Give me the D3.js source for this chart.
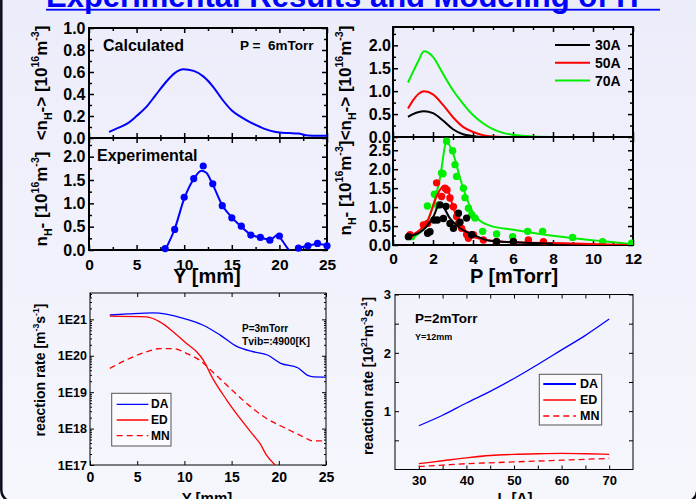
<!DOCTYPE html>
<html>
<head>
<meta charset="utf-8">
<script src="https://cdn.jsdelivr.net/npm/d3@7"></script>
<style>
  body { margin: 0; background: #eff0fb; }
  svg { display: block; }
  text { font-family: "Liberation Sans", Arial, sans-serif; font-weight: bold; }
</style>
</head>
<body>
<svg id="chart" width="696" height="499"></svg>
<script>
// (a) calculated <nH-> vs Y, P = 6 mTorr
const calcY = [2.1, 3, 4, 5, 6, 7, 8, 9, 9.9, 11, 12, 13, 14, 15, 16, 17, 18, 19, 20, 21, 22, 23, 24, 25];
const calcN = [0.055, 0.09, 0.13, 0.2, 0.28, 0.39, 0.5, 0.59, 0.625, 0.61, 0.56, 0.47, 0.35, 0.25, 0.19, 0.14, 0.1, 0.067, 0.05, 0.045, 0.04, 0.022, 0.02, 0.02];

// (b) experimental nH- vs Y
const expY = [8, 9, 10, 11, 12, 13, 14, 15, 16, 17, 18, 19, 20, 22, 23, 24, 25];
const expN = [0.03, 0.44, 1.13, 1.53, 1.8, 1.42, 0.95, 0.69, 0.51, 0.32, 0.27, 0.21, 0.3, 0.04, 0.09, 0.14, 0.09];
const expLineY = [8, 9, 10, 11, 11.8, 12.3, 13, 14, 15, 16, 17, 18, 19, 19.8, 20.3, 21, 21.5, 22, 23, 24, 25];
const expLineN = [0, 0.45, 1.1, 1.52, 1.7, 1.66, 1.4, 0.96, 0.7, 0.5, 0.33, 0.27, 0.22, 0.32, 0.2, 0, -0.08, 0.03, 0.09, 0.13, 0.1];

// (c) calculated <nH-> vs P for three discharge currents
const currents = ["30A", "50A", "70A"];
const colors = ["#000000", "#ff0000", "#00ee00"];
const calcP = [0.75, 1, 1.25, 1.55, 2, 2.5, 3, 3.5, 4, 4.5, 5, 5.5, 6, 7, 8];
const calc30 = [0.44, 0.5, 0.54, 0.56, 0.52, 0.36, 0.17, 0.06, 0.02, 0, 0, 0, 0, 0, 0];
const calc50 = [0.62, 0.8, 0.93, 1.0, 0.93, 0.7, 0.43, 0.22, 0.11, 0.04, 0.01, 0, 0, 0, 0];
const calc70 = [1.19, 1.42, 1.64, 1.87, 1.75, 1.38, 1.02, 0.73, 0.48, 0.3, 0.17, 0.09, 0.05, 0.01, 0];

// (d) measured nH- vs P (points) and fits (lines)
const ptP30 = [0.77, 1.73, 1.85, 2.05, 2.22, 2.35, 2.52, 2.65, 2.85, 3.02, 3.27, 3.35, 3.68, 3.93, 5.18, 6.02];
const ptN30 = [0.22, 0.31, 0.35, 0.66, 0.66, 1.06, 0.7, 1.02, 0.57, 0.44, 0.84, 0.6, 0.71, 0.27, 0.09, 0.09];
const ptP50 = [0.85, 1.52, 1.73, 2.18, 2.43, 2.6, 2.7, 2.85, 3.02, 3.18, 3.27, 3.43, 3.68, 3.77, 4.02, 4.52, 5.18, 6.02, 6.77, 7.52];
const ptN50 = [0.27, 0.53, 0.57, 1.64, 1.28, 1.5, 1.45, 1.24, 1.01, 0.75, 0.57, 0.44, 0.28, 0.18, 0.27, 0.13, 0.09, 0.09, 0.13, 0.09];
const ptP70 = [0.93, 1.72, 2.07, 2.23, 2.43, 2.5, 2.68, 2.98, 3.1, 3.18, 3.52, 3.6, 3.77, 3.93, 4.1, 4.48, 5.18, 5.98, 6.73, 7.48, 8.98, 10.48, 11.93];
const ptN70 = [0.22, 1.03, 1.34, 1.05, 1.9, 1.88, 2.74, 2.49, 2.12, 1.81, 1.5, 1.25, 0.97, 0.8, 0.71, 0.36, 0.29, 0.22, 0.36, 0.36, 0.2, 0.09, 0.05];
const fitP30 = [0.77, 1.52, 2.02, 2.35, 2.85, 3.35, 4.02, 4.85, 6.02, 8];
const fitN30 = [0.22, 0.4, 0.75, 1.11, 0.7, 0.44, 0.27, 0.11, 0.07, 0.03];
const fitP50 = [0.77, 1.22, 1.72, 2.18, 2.52, 2.7, 3.02, 3.35, 3.68, 4.02, 4.68, 6.02, 9.02, 11.7];
const fitN50 = [0.22, 0.35, 0.62, 1.28, 1.55, 1.5, 0.97, 0.57, 0.35, 0.22, 0.13, 0.07, 0.04, 0];
const fitP70 = [0.88, 1.38, 1.88, 2.35, 2.68, 3.02, 3.35, 3.68, 4.02, 4.35, 4.85, 6.02, 7.35, 9.02, 10.68, 12];
const fitN70 = [0.18, 0.35, 0.84, 1.77, 2.72, 2.39, 1.77, 1.24, 0.84, 0.64, 0.51, 0.4, 0.29, 0.18, 0.09, 0.02];

// (e) reaction rates vs Y, P = 3 mTorr
const rateNames = ["DA", "ED", "MN"];
const daY = [2.1, 4, 6.7, 9.9, 12, 13.8, 15.6, 17.3, 18.8, 20.2, 22, 23, 23.7, 25];
const daR = [1.32e21, 1.41e21, 1.51e21, 1.07e21, 6.9e20, 3.7e20, 1.78e20, 1.29e20, 1.05e20, 6.2e19, 4.7e19, 2.95e19, 2.63e19, 2.6e19];
const edY = [2.1, 6, 7.4, 8.8, 10.2, 11.3, 12, 13, 14.5, 15.9, 17.3, 18, 18.7, 19.8, 20.2];
const edR = [1.23e21, 1.17e21, 8.5e20, 4.6e20, 2.2e20, 1.29e20, 7.6e19, 2.4e19, 6.0e18, 1.9e18, 6.6e17, 3.9e17, 1.86e17, 8.9e16, 7e16];
const mnY = [2.1, 4.2, 6, 7.4, 8.8, 10.2, 11.6, 13, 14.5, 16.6, 18.7, 20.8, 22.6, 23.6, 25];
const mnR = [4.5e19, 8.5e19, 1.29e20, 1.58e20, 1.58e20, 1.17e20, 7.6e19, 3.6e19, 1.55e19, 4.9e18, 1.9e18, 1.0e18, 5.9e17, 4.6e17, 4.6e17];

// (f) reaction rates vs discharge current, P = 2 mTorr, Y = 12 mm
const currentA = [30, 35, 40, 45, 50, 55, 60, 65, 70];
const daI = [0.75, 0.93, 1.14, 1.34, 1.56, 1.8, 2.05, 2.3, 2.58];
const edI = [0.1, 0.15, 0.2, 0.24, 0.26, 0.27, 0.275, 0.27, 0.26];
const mnI = [0.05, 0.075, 0.1, 0.115, 0.13, 0.145, 0.16, 0.175, 0.19];

const svg = d3.select("#chart");
const BLUE = "#0000ff";

// background + slide border
const grad = svg.append("defs").append("linearGradient").attr("id", "bg").attr("x1", 0).attr("y1", 0).attr("x2", 0).attr("y2", 1);
grad.append("stop").attr("offset", 0).attr("stop-color", "#ecedfa");
grad.append("stop").attr("offset", 1).attr("stop-color", "#f6f6fd");
svg.append("rect").attr("width", 696).attr("height", 499).attr("fill", "url(#bg)");
svg.append("rect").attr("x", 1.3).attr("y", -30).attr("width", 696).attr("height", 532.5).attr("rx", 13)
  .attr("fill", "none").attr("stroke", "#0b0b1e").attr("stroke-width", 2.5);

// title (cut off at the top of the slide)
const title = svg.append("text").attr("x", 46).attr("y", 6.8).attr("fill", BLUE).attr("font-size", 31);
title.append("tspan").text("Experimental Results and Modeling of H");
title.append("tspan").attr("dy", -12).attr("font-size", 20).text("-");
svg.append("rect").attr("x", 46).attr("y", 8.8).attr("width", 614).attr("height", 1.8).attr("fill", BLUE);

// rich text: parts = [text, "sup" | "sub" | null]
function rich(sel, parts, size) {
  let shift = 0;
  parts.forEach(([t, k]) => {
    const target = k === "sup" ? -0.45 * size : k === "sub" ? 0.28 * size : 0;
    sel.append("tspan").attr("dy", target - shift).attr("font-size", k ? size * 0.62 : size).text(t);
    shift = target;
  });
  return sel;
}
function yTitle(x, y, parts, size) {
  const t = svg.append("text").attr("text-anchor", "middle")
    .attr("transform", `translate(${x},${y}) rotate(-90)`);
  rich(t, parts, size);
}
function label(x, y, txt, size, anchor) {
  return svg.append("text").attr("x", x).attr("y", y).attr("font-size", size)
    .attr("text-anchor", anchor || "start").attr("dominant-baseline", "central").text(txt);
}

let clipN = 0;
function clip(x, y) {
  const id = "clip" + (clipN++);
  const [xl, xr] = x.range(), [yb, yt] = y.range();
  svg.select("defs").append("clipPath").attr("id", id).append("rect")
    .attr("x", xl).attr("y", yt).attr("width", xr - xl).attr("height", yb - yt);
  return svg.append("g").attr("clip-path", `url(#${id})`);
}

// frame with inward ticks on all four sides
function frame(x, y, o) {
  const [xl, xr] = x.range(), [yb, yt] = y.range();
  const put = (axis, tx, ty, fs) => {
    const a = svg.append("g").attr("transform", `translate(${tx},${ty})`).call(axis)
      .attr("font-family", null).attr("font-size", null);
    a.select(".domain").remove();
    a.selectAll("line").attr("stroke-width", o.tw);
    a.selectAll("text").attr("font-size", fs).attr("fill", "#000");
    return a;
  };
  const tk = (mk, sc, vals, len, tx, ty) => put(mk(sc).tickValues(vals).tickSize(-len).tickFormat(""), tx, ty);
  [[d3.axisBottom, yb], [d3.axisTop, yt]].forEach(([mk, ty]) => {
    tk(mk, x, o.xMinor, o.minor, 0, ty);
    tk(mk, x, o.xMajor, o.major, 0, ty);
  });
  [[d3.axisLeft, xl], [d3.axisRight, xr]].forEach(([mk, tx]) => {
    tk(mk, y, o.yMinor, o.minor, tx, 0);
    tk(mk, y, o.yMajor, o.major, tx, 0);
  });
  if (o.xLab) put(d3.axisBottom(x).tickValues(o.xLab).tickSize(0).tickPadding(o.xPad).tickFormat(o.xFmt), 0, yb, o.xfs);
  if (o.yLab) put(d3.axisLeft(y).tickValues(o.yLab).tickSize(0).tickPadding(o.yPad).tickFormat(o.yFmt), xl, 0, o.yfs);
  svg.append("rect").attr("x", xl).attr("y", yt).attr("width", xr - xl).attr("height", yb - yt)
    .attr("fill", "none").attr("stroke", "#000").attr("stroke-width", o.sw);
}

const smooth = (x, y) => d3.line().x(d => x(d[0])).y(d => y(d[1])).curve(d3.curveMonotoneX);
const zip = (a, b) => a.map((v, i) => [v, b[i]]);
const f1 = d3.format(".1f");
const range = (a, b, s) => d3.range(a, b + s / 2, s);

// ---------- (a) ----------
const xY = d3.scaleLinear().domain([0, 25]).range([89, 327]);
const yA = d3.scaleLinear().domain([0, 1]).range([138, 28]);
const yB = d3.scaleLinear().domain([0, 2.4]).range([250, 138]);
const topOpt = { tw: 1.5, sw: 2, major: 5, minor: 3, xfs: 15.5, yfs: 16, xPad: 8.5, yPad: 3.5 };

frame(xY, yA, { ...topOpt, xMajor: range(0, 25, 5), xMinor: range(2.5, 22.5, 5),
  yMajor: range(0, 1, 0.2), yMinor: range(0.1, 0.9, 0.2), yLab: range(0, 1, 0.2), yFmt: f1 });
clip(xY, yA).append("path").datum(zip(calcY, calcN)).attr("d", smooth(xY, yA))
  .attr("fill", "none").attr("stroke", BLUE).attr("stroke-width", 2);
label(103, 45, "Calculated", 16);
label(240, 45, "P =  6mTorr", 13.5).attr("xml:space", "preserve");

// ---------- (b) ----------
frame(xY, yB, { ...topOpt, xMajor: range(0, 25, 5), xMinor: range(2.5, 22.5, 5),
  yMajor: range(0, 2, 0.5), yMinor: range(0.25, 2.25, 0.5), yLab: range(0, 2, 0.5), yFmt: f1,
  xLab: range(0, 25, 5), xFmt: d3.format("d") });
const gB = clip(xY, yB);
gB.append("path").datum(zip(expLineY, expLineN)).attr("d", smooth(xY, yB))
  .attr("fill", "none").attr("stroke", BLUE).attr("stroke-width", 2);
svg.selectAll(null).data(zip(expY, expN)).join("circle")
  .attr("cx", d => xY(d[0])).attr("cy", d => yB(d[1])).attr("r", 3.6).attr("fill", BLUE);
label(97, 155, "Experimental", 16);
label(207, 276, "Y [mm]", 20, "middle");

yTitle(47, 83, [["<n", null], ["H", "sub"], ["-> [10", null], ["16", "sup"], ["m", null], ["-3", "sup"], ["]", null]], 17);
yTitle(47, 199, [["n", null], ["H", "sub"], ["- [10", null], ["16", "sup"], ["m", null], ["-3", "sup"], ["]", null]], 17);

// ---------- (c) ----------
const xP = d3.scaleLinear().domain([0, 12]).range([393, 633]);
const yC = d3.scaleLinear().domain([0, 2.4]).range([137, 27]);
const yD = d3.scaleLinear().domain([0, 2.85]).range([245, 137]);
frame(xP, yC, { ...topOpt, yPad: 2, xMajor: range(0, 12, 2), xMinor: range(1, 11, 2),
  yMajor: range(0, 2, 0.5), yMinor: range(0.25, 2.25, 0.5), yLab: range(0, 2, 0.5), yFmt: f1 });
const gC = clip(xP, yC);
[calc30, calc50, calc70].forEach((s, i) => {
  gC.append("path").datum(zip(calcP, s)).attr("d", smooth(xP, yC))
    .attr("fill", "none").attr("stroke", colors[i]).attr("stroke-width", 2);
});
currents.forEach((c, i) => {
  const ly = 45 + i * 17.8;
  svg.append("line").attr("x1", 555).attr("x2", 590).attr("y1", ly).attr("y2", ly)
    .attr("stroke", colors[i]).attr("stroke-width", 2);
  label(595, ly, c, 14);
});

// ---------- (d) ----------
frame(xP, yD, { ...topOpt, yPad: 2, xPad: 7.5, xMajor: range(0, 12, 2), xMinor: range(1, 11, 2),
  yMajor: range(0, 2.5, 0.5), yMinor: range(0.25, 2.75, 0.5), yLab: range(0, 2.5, 0.5), yFmt: f1,
  xLab: range(0, 12, 2), xFmt: d3.format("d") });
const gD = clip(xP, yD);
const pts = [[ptP70, ptN70, fitP70, fitN70, 2], [ptP50, ptN50, fitP50, fitN50, 1], [ptP30, ptN30, fitP30, fitN30, 0]];
pts.forEach(([pp, pn, fp, fn, ci]) => {
  gD.selectAll(null).data(zip(pp, pn)).join("circle")
    .attr("cx", d => xP(d[0])).attr("cy", d => yD(d[1])).attr("r", 3.7).attr("fill", colors[ci]);
  gD.append("path").datum(zip(fp, fn)).attr("d", smooth(xP, yD))
    .attr("fill", "none").attr("stroke", colors[ci]).attr("stroke-width", 2);
});
label(514, 276, "P [mTorr]", 20, "middle");

yTitle(351, 83, [["<n", null], ["H", "sub"], ["-> [10", null], ["16", "sup"], ["m", null], ["-3", "sup"], ["]", null]], 17);
yTitle(351, 188, [["n", null], ["H", "sub"], ["- [10", null], ["16", "sup"], ["m", null], ["-3", "sup"], ["]", null]], 17);

// ---------- (e) ----------
const xE = d3.scaleLinear().domain([0, 25]).range([90, 326]);
const yE = d3.scaleLog().domain([1e17, 5.3e21]).range([465, 293]);
const decades = [1e17, 1e18, 1e19, 1e20, 1e21];
const logMinor = decades.flatMap(d => d3.range(2, 10).map(m => m * d)).filter(v => v < 5.3e21);
frame(xE, yE, { tw: 1, sw: 1, major: 4, minor: 2, xfs: 14, yfs: 12.5, xPad: 7, yPad: 3,
  xMajor: range(0, 25, 5), xMinor: [], yMajor: decades, yMinor: logMinor,
  xLab: range(0, 25, 5), xFmt: d3.format("d"), yLab: decades, yFmt: d => "1E" + Math.round(Math.log10(d)) });
const gE = clip(xE, yE);
const lineE = d3.line().x(d => xE(d[0])).y(d => yE(d[1])).curve(d3.curveMonotoneX);
const seriesE = [[daY, daR, BLUE, null], [edY, edR, "#ff0000", null], [mnY, mnR, "#ff0000", "6,4"]];
seriesE.forEach(([sx, sy, c, dash]) => {
  gE.append("path").datum(zip(sx, sy)).attr("d", lineE).attr("fill", "none")
    .attr("stroke", c).attr("stroke-width", 1.3).attr("stroke-dasharray", dash);
});
svg.append("rect").attr("x", 111.7).attr("y", 393.3).attr("width", 59.3).attr("height", 52.7)
  .attr("fill", "#fbfbff").attr("stroke", "#555").attr("stroke-width", 1);
seriesE.forEach(([, , c, dash], i) => {
  const ly = 404.3 + i * 15.7;
  svg.append("line").attr("x1", 116.7).attr("x2", 148.3).attr("y1", ly).attr("y2", ly)
    .attr("stroke", c).attr("stroke-width", 1.3).attr("stroke-dasharray", dash);
  label(151, ly, rateNames[i], 12);
});
label(242, 328, "P=3mTorr", 10);
label(242, 341.7, "Tvib=:4900[K]", 10.3);
label(207, 497, "Y [mm]", 15, "middle");
yTitle(45, 370, [["reaction rate [m", null], ["-3", "sup"], ["s", null], ["-1", "sup"], ["]", null]], 14);

// ---------- (f) ----------
const xI = d3.scaleLinear().domain([25, 75]).range([395, 633]);
const yF = d3.scaleLinear().domain([0, 3]).range([469.5, 294.5]);
frame(xI, yF, { tw: 1, sw: 1, major: 4, minor: 4, xfs: 13, yfs: 13, xPad: 6.5, yPad: 4,
  xMajor: range(30, 70, 10), xMinor: range(35, 65, 10), yMajor: [1, 2, 3], yMinor: [0.5, 1.5, 2.5],
  xLab: range(30, 70, 10), xFmt: d3.format("d"), yLab: [1, 2, 3], yFmt: d3.format("d") });
const gF = clip(xI, yF);
const lineF = d3.line().x(d => xI(d[0])).y(d => yF(d[1])).curve(d3.curveMonotoneX);
const seriesF = [[daI, BLUE, null], [edI, "#ff0000", null], [mnI, "#ff0000", "6,4"]];
seriesF.forEach(([s, c, dash]) => {
  gF.append("path").datum(zip(currentA, s)).attr("d", lineF).attr("fill", "none")
    .attr("stroke", c).attr("stroke-width", 1.3).attr("stroke-dasharray", dash);
});
svg.append("rect").attr("x", 539.3).attr("y", 374.3).attr("width", 62.4).attr("height", 50.7)
  .attr("fill", "#fbfbff").attr("stroke", "#555").attr("stroke-width", 1);
seriesF.forEach(([, c, dash], i) => {
  const ly = 384 + i * 16;
  svg.append("line").attr("x1", 543.3).attr("x2", 576).attr("y1", ly).attr("y2", ly)
    .attr("stroke", c).attr("stroke-width", i === 0 ? 2 : 1.3).attr("stroke-dasharray", dash);
  label(580, ly, rateNames[i], 12.5);
});
label(415, 318.3, "P=2mTorr", 13.5);
label(415, 336.7, "Y=12mm", 9);
const xl = svg.append("text").attr("x", 515).attr("y", 503).attr("text-anchor", "middle").attr("font-size", 15);
rich(xl, [["I", null], ["d", "sub"], [" [A]", null]], 15);
yTitle(373, 376, [["reaction rate [10", null], ["21", "sup"], ["m", null], ["-3", "sup"], ["s", null], ["-1", "sup"], ["]", null]], 14);
</script>
</body>
</html>
